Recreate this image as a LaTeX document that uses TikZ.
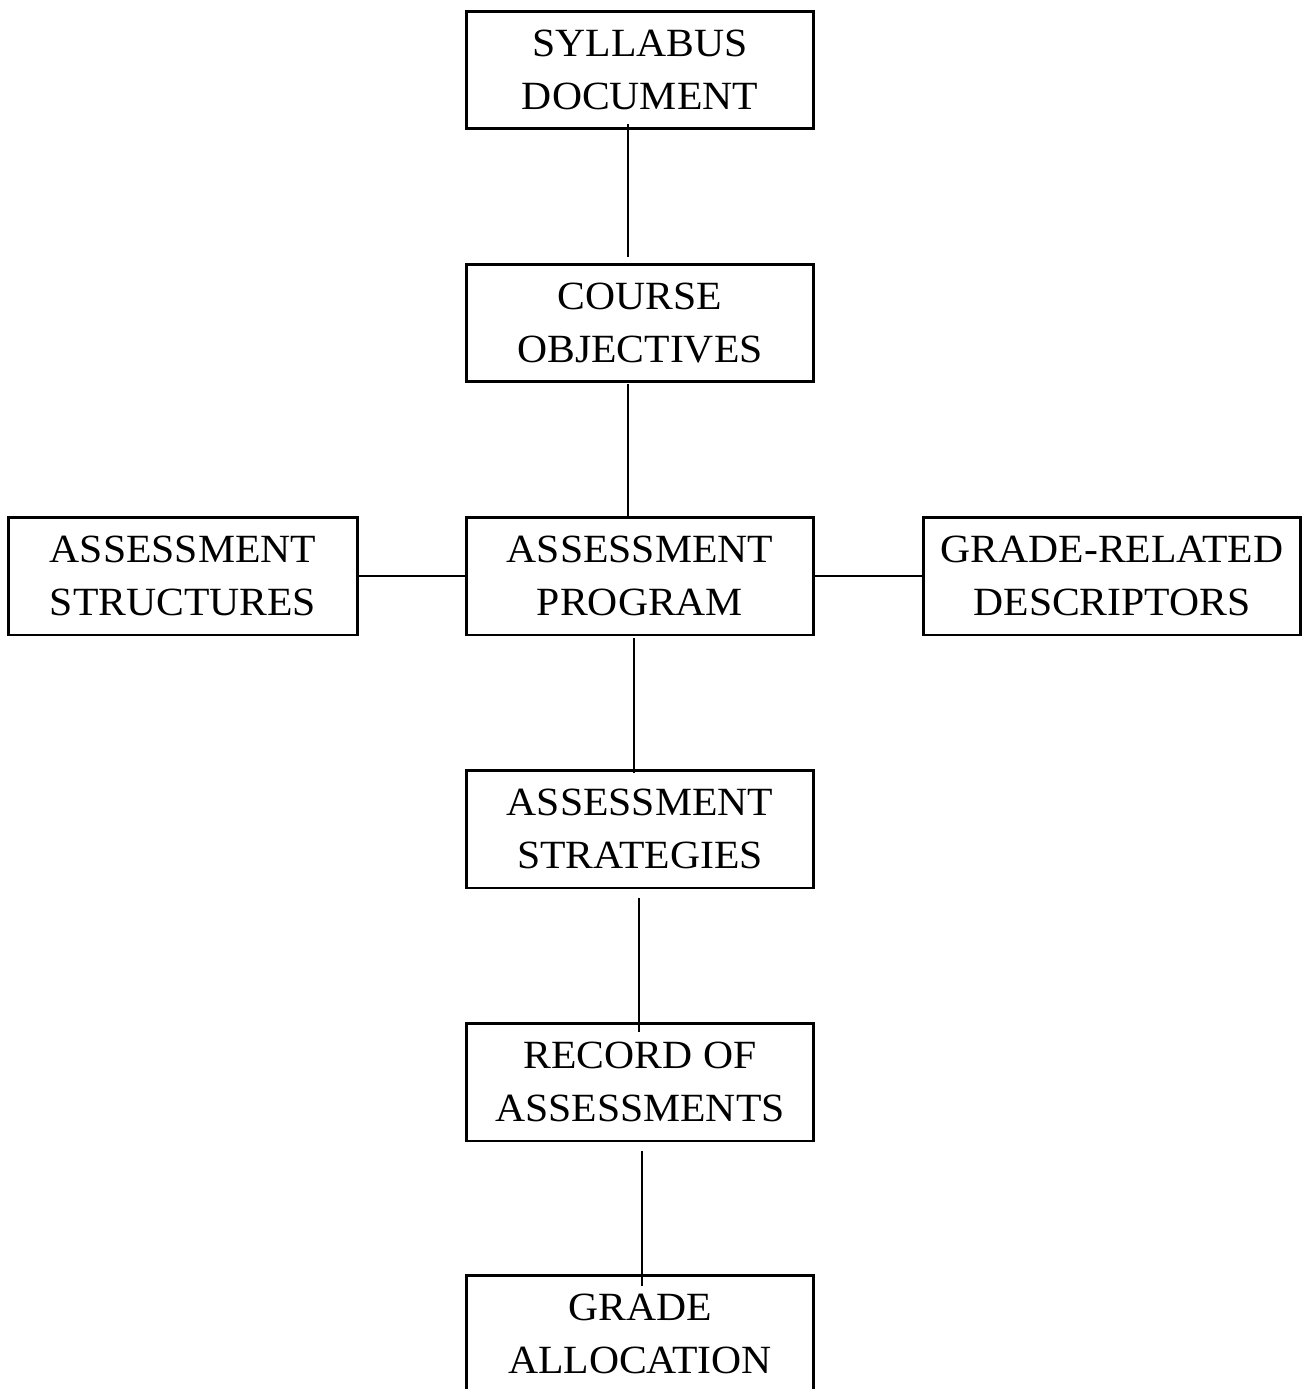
\documentclass[tikz,border=0pt]{standalone}
\usepackage{fontspec}
\newfontfamily\boxfont[FakeStretch=1.04]{Liberation Serif}
\usepackage{tikz}

\begin{document}
\begin{tikzpicture}[x=0.02cm, y=-0.02cm,
		box/.style={draw, line width=1.7pt, align=center, inner sep=0pt,
			minimum width=6.96cm, minimum height=2.36cm,
			font=\boxfont\fontsize{22.8}{30.5}\selectfont},
		link/.style={line width=1.1pt}]
			\useasboundingbox (0,0) rectangle (1308,1389);
			% Middle column
			\node[box] (syllabus) at (640,70) {SYLLABUS\\DOCUMENT};
			\node[box] (course) at (640,323) {COURSE\\OBJECTIVES};
			\node[box] (program) at (640,576) {ASSESSMENT\\PROGRAM};
			\node[box] (strategies) at (640,829) {ASSESSMENT\\STRATEGIES};
			\node[box] (record) at (640,1082) {RECORD OF\\ASSESSMENTS};
			\node[box] (grade) at (640,1334) {GRADE\\ALLOCATION};
			% Side boxes
			\node[box, minimum width=7cm] (structures) at (183,576) {ASSESSMENT\\STRUCTURES};
			\node[box, minimum width=7.56cm] (descriptors) at (1112,576) {GRADE-RELATED\\DESCRIPTORS};
			% Links
			\draw[link] ([shift={(-12,-6)}]syllabus.south) -- ([shift={(-12,-6)}]course.north);
			\draw[link] ([shift={(-12,1)}]course.south) -- ([shift={(-12,3)}]program.north);
			\draw[link] ([shift={(-6,2)}]program.south) -- ([shift={(-6,4)}]strategies.north);
			\draw[link] ([shift={(-1,9)}]strategies.south) -- ([shift={(-1,10)}]record.north);
			\draw[link] ([shift={(2,9)}]record.south) -- ([shift={(2,12)}]grade.north);
			\draw[link] (structures.east) -- (program.west);
			\draw[link] (program.east) -- (descriptors.west);
		\end{tikzpicture}
\end{document}
